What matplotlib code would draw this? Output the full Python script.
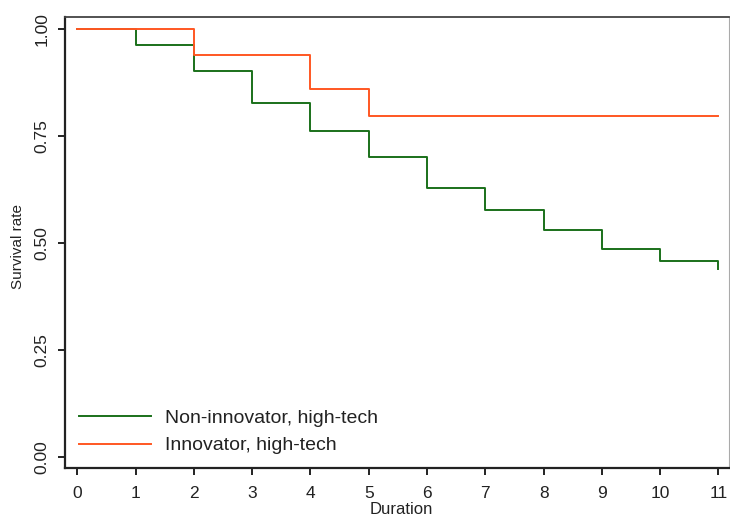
import matplotlib
matplotlib.use("Agg")
import matplotlib.pyplot as plt

plt.rcParams['font.family'] = ['Liberation Sans', 'DejaVu Sans']

# Data
non_innov_times = [0, 1, 2, 3, 4, 5, 6, 7, 8, 9, 10, 11]
non_innov_surv = [1.000, 0.963, 0.902, 0.827, 0.761, 0.700, 0.629, 0.578, 0.531, 0.485, 0.457, 0.440]
innov_times = [0, 2, 4, 5, 11]
innov_surv = [1.000, 0.939, 0.860, 0.798, 0.798]
series_labels = ["Non-innovator, high-tech", "Innovator, high-tech"]
x_ticks = list(range(0, 12))
y_ticks = [0.00, 0.25, 0.50, 0.75, 1.00]
y_tick_labels = ["0.00", "0.25", "0.50", "0.75", "1.00"]

fig = plt.figure(figsize=(7.30, 5.16), dpi=100)
ax = fig.add_axes([0.089, 0.093, 0.9096, 0.8746])

ax.step(non_innov_times, non_innov_surv, where='post', color='#1a701a', lw=1.4,
        label=series_labels[0])
ax.step(innov_times, innov_surv, where='post', color='#ff5722', lw=1.4,
        label=series_labels[1])

ax.set_xlim(-0.21, 11.18)
ax.set_ylim(-0.026, 1.029)
ax.set_xticks(x_ticks)
ax.set_yticks(y_ticks)
ax.set_yticklabels(y_tick_labels, rotation=90, va='center')
ax.tick_params(axis='both', labelsize=12.5, length=5, width=1.4, color='#222222',
               labelcolor='#222222')
ax.tick_params(axis='x', pad=8)
ax.tick_params(axis='y', pad=6)

for side in ['left', 'bottom']:
    ax.spines[side].set_linewidth(1.6)
    ax.spines[side].set_color('#222222')
ax.spines['top'].set_linewidth(1.3)
ax.spines['top'].set_color('#444444')
ax.spines['right'].set_linewidth(0.8)
ax.spines['right'].set_color('#aaaaaa')

ax.set_xlabel("Duration", fontsize=12, color='#222222')
ax.xaxis.set_label_coords(0.507, -0.075)
ax.set_ylabel("Survival rate", fontsize=11, color='#222222')
ax.yaxis.set_label_coords(-0.06, 0.49)

leg = ax.legend(loc='lower left', bbox_to_anchor=(0.0, 0.0), frameon=False,
                fontsize=14, handlelength=3.7, handletextpad=0.72,
                labelspacing=0.5, borderaxespad=0.3)
for t in leg.get_texts():
    t.set_color('#222222')

fig.savefig("out.png", dpi=100)
